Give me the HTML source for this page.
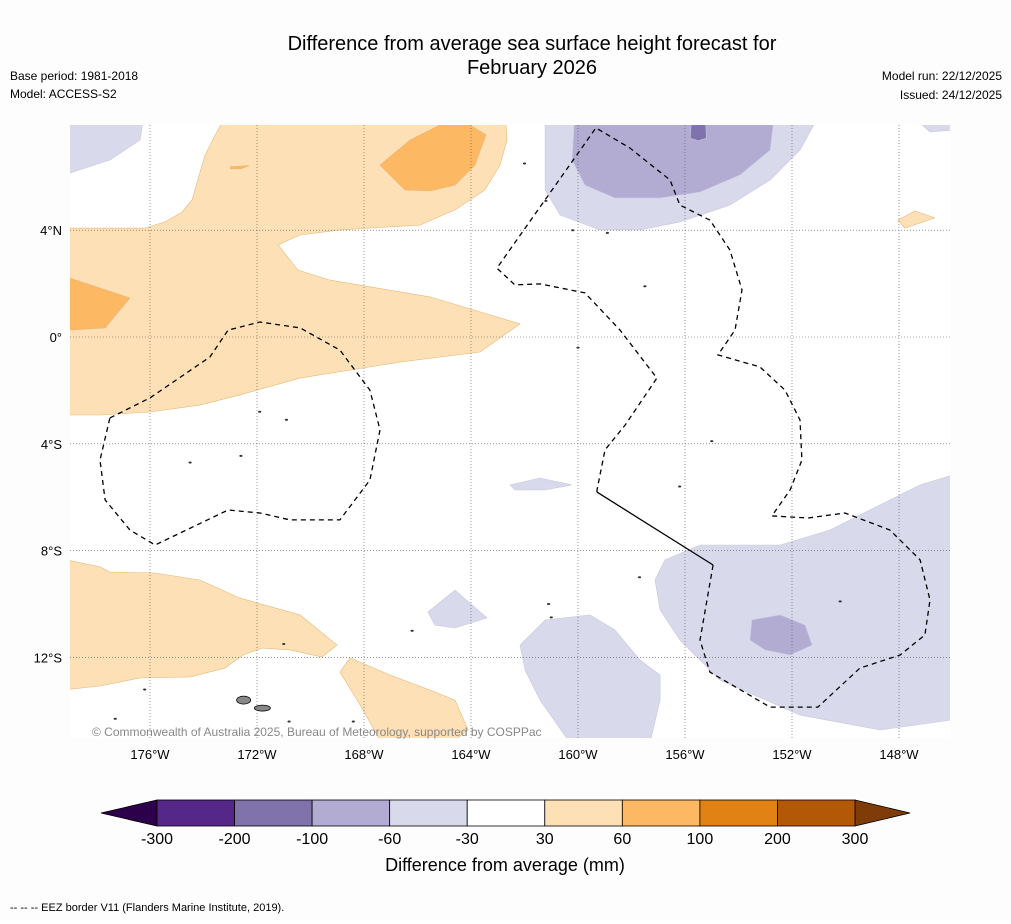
<!DOCTYPE html>
<html><head><meta charset="utf-8"><style>
body{margin:0;background:#fff;font-family:"Liberation Sans",sans-serif;}
</style></head><body>
<svg id="chart" width="1011" height="919" xmlns="http://www.w3.org/2000/svg" font-family="Liberation Sans, sans-serif">
<rect width="1011" height="919" fill="#fdfdfd"/>
<text x="532" y="50" font-size="20" text-anchor="middle">Difference from average sea surface height forecast for</text>
<text x="532" y="74" font-size="20" text-anchor="middle">February 2026</text>
<text x="10" y="80" font-size="12">Base period: 1981-2018</text>
<text x="10" y="98" font-size="12">Model: ACCESS-S2</text>
<text x="1002" y="80" font-size="12" text-anchor="end">Model run: 22/12/2025</text>
<text x="1002" y="99" font-size="12" text-anchor="end">Issued: 24/12/2025</text>
<defs><clipPath id="mapclip"><rect x="70" y="125" width="880" height="613"/></clipPath></defs>
<g id="map" clip-path="url(#mapclip)"></g>
<g id="axes"></g>
<text x="92" y="736" font-size="12" fill="#888">© Commonwealth of Australia 2025, Bureau of Meteorology, supported by COSPPac</text>
<g id="colorbar"></g>
<text x="505" y="871" font-size="18" text-anchor="middle">Difference from average (mm)</text>
<text x="10" y="911" font-size="11">--  --  -- EEZ border V11 (Flanders Marine Institute, 2019).</text>
</svg>
<script>
const lonTicks=[-176,-172,-168,-164,-160,-156,-152,-148];
const latTicks=[4,0,-4,-8,-12];
const levels=[-300,-200,-100,-60,-30,30,60,100,200,300];
const levelColors=["#542788","#8073ac","#b2abd2","#d8daeb","#ffffff","#fee0b6","#fdb863","#e08214","#b35806"];
const lowExtColor="#2d004b", highExtColor="#7f3b08";
const regions=[
[5,[[-179,4.08],[-176.19,4.08],[-175.44,4.31],[-174.8,4.68],[-174.43,5.13],[-173.94,6.82],[-173.08,8.5],[-162.73,8.5],[-162.65,7.38],[-162.92,6.44],[-163.48,5.51],[-164.6,4.76],[-165.91,4.19],[-168.9,4.01],[-170.39,3.82],[-171.21,3.45],[-170.47,2.51],[-169.27,2.13],[-165.53,1.5],[-162.17,0.49],[-163.66,-0.56],[-166.65,-0.94],[-170.39,-1.54],[-172.64,-2.17],[-174.13,-2.55],[-176,-2.81],[-177.87,-2.92],[-180,-2.92],[-180,4.08]]],
[6,[[-180,2.21],[-179,2.21],[-176.75,1.46],[-177.68,0.34],[-179,0.26],[-180,0.26]]],
[6,[[-167.4,6.44],[-166.28,7.38],[-165.16,7.94],[-164.04,7.94],[-163.44,7.57],[-163.85,6.44],[-164.6,5.69],[-165.53,5.47],[-166.47,5.51]]],
[6,[[-173.0,6.38],[-172.3,6.42],[-172.6,6.3],[-173.0,6.3]]],
[5,[[-180,-8.16],[-177.87,-8.61],[-177.5,-8.8],[-175.81,-8.84],[-174.13,-9.1],[-172.64,-9.78],[-170.39,-10.41],[-169.01,-11.54],[-169.57,-11.99],[-170.77,-11.72],[-171.81,-11.65],[-172.52,-11.91],[-173.2,-12.4],[-174.5,-12.73],[-176.37,-12.77],[-177.87,-13.07],[-180,-13.3]]],
[5,[[-168.9,-12.55],[-168.52,-12.02],[-167.03,-12.66],[-165.53,-13.22],[-164.6,-13.6],[-164.11,-14.72],[-164.6,-15.09],[-167.4,-15.09],[-168.15,-13.78]]],
[5,[[-148.04,4.38],[-147.41,4.72],[-146.66,4.46],[-147.78,4.08]]],
[3,[[-180,8.5],[-176.19,8.5],[-176.37,7.38],[-177.5,6.63],[-179,6.14],[-180,6.0]]],
[3,[[-161.23,8.5],[-150.88,8.5],[-151.7,7.0],[-152.82,5.88],[-154.32,4.94],[-156.19,4.31],[-157.68,4.01],[-159.18,4.01],[-160.67,4.57],[-161.23,5.51]]],
[2,[[-160.11,8.5],[-152.64,8.5],[-152.82,7.0],[-153.94,6.07],[-155.44,5.43],[-156.93,5.21],[-158.62,5.21],[-159.74,5.69],[-160.22,6.63]]],
[1,[[-155.74,8.5],[-155.25,8.5],[-155.2,7.45],[-155.5,7.35],[-155.8,7.45]]],
[3,[[-147.78,8.5],[-146,8.5],[-146,7.75],[-146.84,7.68]]],
[3,[[-162.54,-5.54],[-161.42,-5.28],[-160.22,-5.54],[-161.23,-5.73],[-162.36,-5.73]]],
[3,[[-165.61,-10.3],[-164.6,-9.48],[-163.4,-10.52],[-164.6,-10.9],[-165.35,-10.79]]],
[3,[[-162.17,-11.54],[-161.23,-10.6],[-159.55,-10.41],[-158.62,-10.97],[-157.68,-12.1],[-156.93,-12.66],[-156.93,-13.6],[-157.31,-15.2],[-160.3,-15.2],[-161.42,-13.6],[-161.98,-12.47]]],
[3,[[-156.75,-8.35],[-155.44,-7.79],[-152.45,-7.79],[-150.58,-7.23],[-148.71,-6.29],[-147.21,-5.54],[-146,-5.17],[-146,-14.34],[-148.71,-14.72],[-151.7,-14.16],[-154.69,-12.85],[-156.19,-11.35],[-156.93,-10.22],[-157.12,-9.1]]],
[2,[[-153.5,-10.6],[-152.45,-10.41],[-151.51,-10.79],[-151.25,-11.54],[-152.07,-11.91],[-153.01,-11.72],[-153.57,-11.35]]]
];
const eezLoop1=[[-177.5,-3.03],[-176,-2.28],[-173.76,-0.75],[-173.08,0.26],[-171.89,0.56],[-170.39,0.34],[-168.9,-0.49],[-167.78,-1.99],[-167.4,-3.48],[-167.78,-5.36],[-168.9,-6.85],[-170.77,-6.85],[-171.89,-6.59],[-173.08,-6.48],[-175.81,-7.79],[-176.75,-7.23],[-177.68,-6.1],[-177.87,-4.61],[-177.5,-3.03]];
const eezLoop2=[[-159.29,-5.81],[-159.29,-5.73],[-158.99,-4.23],[-158.24,-3.3],[-157.05,-1.54],[-158.43,0.26],[-159.74,1.65],[-161.42,1.99],[-162.36,1.95],[-163.03,2.58],[-159.33,7.83],[-158.06,7.08],[-156.56,5.88],[-156.19,4.94],[-155.07,4.38],[-154.32,3.26],[-153.87,1.76],[-154.13,0.26],[-154.77,-0.67],[-153.2,-1.12],[-152.26,-1.99],[-151.7,-3.11],[-151.63,-4.61],[-152.07,-5.73],[-152.75,-6.7],[-151.4,-6.78],[-150.02,-6.59],[-148.34,-7.23],[-147.21,-8.35],[-146.84,-9.85],[-147.03,-11.16],[-147.96,-11.91],[-149.46,-12.4],[-151.03,-13.86],[-152.82,-13.86],[-155.07,-12.55],[-155.44,-11.35],[-154.95,-8.54]];
const eezSolid=[[-159.29,-5.81],[-154.95,-8.54]];
const islands=[[-172.4,-13.6],[-171.7,-13.9],[-168.4,-14.4],[-170.8,-14.4],[-177.3,-14.3],[-176.2,-13.2],[-172.6,-4.45],[-171.9,-2.8],[-170.9,-3.1],[-174.5,-4.7],[-160.2,4.0],[-158.9,3.9],[-157.5,1.9],[-161.2,5.1],[-162.0,6.5],[-160.0,-0.4],[-155.0,-3.9],[-156.2,-5.6],[-157.7,-9.0],[-161.1,-10.0],[-161.0,-10.5],[-150.2,-9.9],[-171,-11.5],[-166.2,-11]];
const X0=150,LON0=-176,PX=26.75,Y0=337,PY=26.7;
const lx=l=>X0+(l-LON0)*PX, ly=l=>Y0-l*PY;
const NS="http://www.w3.org/2000/svg";
function mk(tag,attrs,parent){const e=document.createElementNS(NS,tag);for(const k in attrs)e.setAttribute(k,attrs[k]);parent.appendChild(e);return e;}
const map=document.getElementById('map');
mk('rect',{x:70,y:125,width:880,height:613,fill:'#fff'},map);
const pts=a=>a.map(p=>lx(p[0]).toFixed(1)+','+ly(p[1]).toFixed(1)).join(' ');
regions.forEach((r,i)=>{const p=mk('polygon',{points:pts(r[1]),fill:levelColors[r[0]],stroke:r[0]>=5?'#e8b878':'#c8c8e0','stroke-width':0.6},map);

});
islands.forEach((d,i)=>{const c=mk('ellipse',{cx:lx(d[0]),cy:ly(d[1]),rx:1.6,ry:1,fill:'#333'},map);

});
[[-172.5,-13.6,7,4],[-171.8,-13.9,8,3]].forEach(g=>{const e=mk('ellipse',{cx:lx(g[0]),cy:ly(g[1]),rx:g[2],ry:g[3],fill:'#888',stroke:'#000','stroke-width':0.8},map);

});
const grid=mk('g',{},map);
lonTicks.forEach(l=>mk('line',{x1:lx(l),x2:lx(l),y1:125,y2:738,stroke:'#555','stroke-width':0.6,'stroke-dasharray':'1,2'},grid));
latTicks.forEach(l=>mk('line',{x1:70,x2:950,y1:ly(l),y2:ly(l),stroke:'#555','stroke-width':0.6,'stroke-dasharray':'1,2'},grid));
[eezLoop1,eezLoop2].forEach((a,i)=>{const p=mk('polyline',{points:pts(a),fill:'none',stroke:'#000','stroke-width':1.3,'stroke-dasharray':'5,4'},map);

});
const s=mk('polyline',{points:pts(eezSolid),fill:'none',stroke:'#000','stroke-width':1.3},map);


const axes=document.getElementById('axes');
lonTicks.forEach(l=>{const t=mk('text',{x:lx(l),y:759,'font-size':13,'text-anchor':'middle'},axes);t.textContent=Math.abs(l)+'°W';

});
latTicks.forEach(l=>{const t=mk('text',{x:62,y:ly(l)+5,'font-size':13,'text-anchor':'end'},axes);t.textContent=l===0?'0°':Math.abs(l)+'°'+(l>0?'N':'S');

});
const cb=document.getElementById('colorbar');
const cbx=157,cbw=698,cby=800,cbh=26,bw=cbw/levelColors.length;
mk('polygon',{points:`${cbx},${cby} 101,${cby+cbh/2} ${cbx},${cby+cbh}`,fill:lowExtColor,stroke:'#000','stroke-width':0.8},cb);
mk('polygon',{points:`${cbx+cbw},${cby} 910,${cby+cbh/2} ${cbx+cbw},${cby+cbh}`,fill:highExtColor,stroke:'#000','stroke-width':0.8},cb);
levelColors.forEach((c,i)=>{const r=mk('rect',{x:cbx+i*bw,y:cby,width:bw,height:cbh,fill:c,stroke:'#000','stroke-width':0.8},cb);

});
levels.forEach((v,i)=>{const t=mk('text',{x:cbx+i*bw,y:844,'font-size':16,'text-anchor':'middle'},cb);t.textContent=v;

});
</script>
</body></html>
